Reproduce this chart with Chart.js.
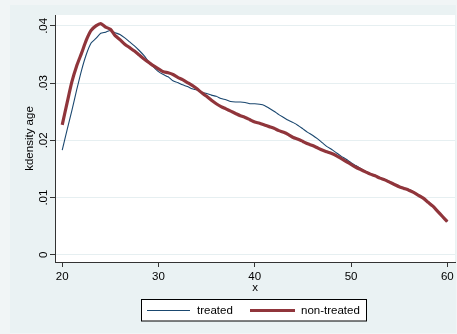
<!DOCTYPE html>
<html>
<head>
<meta charset="utf-8">
<script src="https://cdn.jsdelivr.net/npm/chart.js@4.4.0/dist/chart.umd.min.js"></script>
<style>
html,body{margin:0;padding:0;background:#eaf2f3;}
#wrap{width:457px;height:334px;position:relative;}
</style>
</head>
<body>
<div id="wrap"><canvas id="kd" width="457" height="334"></canvas></div>
<script>
// kdensity of age, treated vs non-treated (Stata s2color look)
const ages = [20,20.5,21,21.5,22,22.5,23,23.5,24,24.5,25,25.5,26,26.5,27,27.5,28,28.5,29,29.5,
  30,30.5,31,31.5,32,32.5,33,33.5,34,34.5,35,35.5,36,36.5,37,37.5,38,38.5,39,39.5,
  40,40.5,41,41.5,42,42.5,43,43.5,44,44.5,45,45.5,46,46.5,47,47.5,48,48.5,49,49.5,
  50,50.5,51,51.5,52,52.5,53,53.5,54,54.5,55,55.5,56,56.5,57,57.5,58,58.5,59,59.5,60];
const treated = [0.0183,0.0218,0.0252,0.0288,0.0322,0.0350,0.0370,0.0378,0.0387,0.0389,
  0.0392,0.0388,0.0385,0.0379,0.0372,0.0365,0.0357,0.0348,0.0337,0.0328,
  0.0320,0.0315,0.0311,0.0304,0.0301,0.0297,0.0294,0.0290,0.0288,0.0284,
  0.0282,0.0279,0.0277,0.0273,0.0271,0.0268,0.0267,0.0267,0.0266,0.0264,
  0.0264,0.0263,0.0261,0.0256,0.0251,0.0245,0.0240,0.0235,0.0231,0.0226,
  0.0220,0.0214,0.0209,0.0203,0.0196,0.0189,0.0184,0.0178,0.0172,0.0167,
  0.0161,0.0156,0.0151,0.0146,0.0142,0.0139,0.0135,0.0132,0.0128,0.0124,
  0.0120,0.0117,0.0114,0.0110,0.0105,0.0100,0.0093,0.0086,0.0077,0.0068,0.0058];
const nonTreated = [0.0227,0.0265,0.0302,0.0330,0.0352,0.0375,0.0392,0.0400,0.0404,0.0398,
  0.0394,0.0383,0.0376,0.0368,0.0362,0.0356,0.0349,0.0342,0.0336,0.0330,
  0.0325,0.0320,0.0318,0.0315,0.0310,0.0306,0.0301,0.0296,0.0290,0.0283,
  0.0277,0.0270,0.0264,0.0259,0.0255,0.0251,0.0247,0.0243,0.0240,0.0236,
  0.0232,0.0230,0.0227,0.0224,0.0221,0.0217,0.0214,0.0210,0.0205,0.0202,
  0.0198,0.0194,0.0191,0.0187,0.0183,0.0180,0.0177,0.0173,0.0168,0.0163,
  0.0158,0.0153,0.0149,0.0145,0.0141,0.0138,0.0134,0.0131,0.0127,0.0123,
  0.0119,0.0116,0.0113,0.0109,0.0104,0.0099,0.0092,0.0085,0.0076,0.0067,0.0058];
const xTicks = [20,30,40,50,60];
const yTicks = [0,0.01,0.02,0.03,0.04];
const yTickLabels = ['0','.01','.02','.03','.04'];
const seriesNames = ['treated','non-treated'];
const xTitle = 'x';
const yTitle = 'kdensity age';

const NAVY = '#1a476f', MAROON = '#90353b', BG = '#eaf2f3';
const FONT = '"Liberation Sans", Arial, sans-serif';

const stataBits = {
  id: 'stataBits',
  beforeDraw(chart){
    const {ctx, chartArea: a} = chart;
    ctx.save();
    ctx.fillStyle = '#f1f5f6';
    ctx.fillRect(0, 0, chart.width, chart.height);
    ctx.fillStyle = BG;
    ctx.fillRect(10, 5, chart.width - 11, chart.height - 6);
    ctx.fillStyle = '#fff';
    ctx.fillRect(a.left, a.top, a.right - a.left, a.bottom - a.top);
    ctx.restore();
  },
  afterDraw(chart){
    const {ctx, chartArea: a} = chart;
    const xs = chart.scales.x, ys = chart.scales.y;
    ctx.save();
    ctx.fillStyle = '#000';
    ctx.font = '11.5px ' + FONT;
    // x tick labels
    ctx.textAlign = 'center';
    ctx.textBaseline = 'middle';
    xTicks.forEach(v => ctx.fillText(String(v), xs.getPixelForValue(v), 276.5));
    ctx.fillText(xTitle, (a.left + a.right) / 2, 288);
    // y tick labels, rotated like Stata
    yTicks.forEach((v, i) => {
      ctx.save();
      ctx.translate(43.5, ys.getPixelForValue(v));
      ctx.rotate(-Math.PI / 2);
      ctx.fillText(yTickLabels[i], 0, 0);
      ctx.restore();
    });
    ctx.save();
    ctx.translate(30, (a.top + a.bottom) / 2);
    ctx.rotate(-Math.PI / 2);
    ctx.fillText(yTitle, 0, 0);
    ctx.restore();
    // legend box
    ctx.fillStyle = '#fff';
    ctx.fillRect(142, 299.5, 225, 21.5);
    ctx.strokeStyle = '#000';
    ctx.lineWidth = 1;
    ctx.strokeRect(141.5, 299.5, 225, 21.5);
    ctx.lineCap = 'butt';
    ctx.strokeStyle = NAVY; ctx.lineWidth = 1.2;
    ctx.beginPath(); ctx.moveTo(147, 310.5); ctx.lineTo(190, 310.5); ctx.stroke();
    ctx.strokeStyle = MAROON; ctx.lineWidth = 3.2;
    ctx.beginPath(); ctx.moveTo(250, 310.5); ctx.lineTo(295, 310.5); ctx.stroke();
    ctx.fillStyle = '#000';
    ctx.textAlign = 'left';
    ctx.fillText(seriesNames[0], 197, 311);
    ctx.fillText(seriesNames[1], 301, 311);
    ctx.restore();
  }
};

new Chart(document.getElementById('kd'), {
  type: 'line',
  data: {
    datasets: [
      { label: seriesNames[0], data: ages.map((x, i) => ({x, y: treated[i]})),
        borderColor: NAVY, borderWidth: 1.1, pointRadius: 0, tension: 0.2, order: 1 },
      { label: seriesNames[1], data: ages.map((x, i) => ({x, y: nonTreated[i]})),
        borderColor: MAROON, borderWidth: 3.2, pointRadius: 0, tension: 0.2, order: 0 }
    ]
  },
  options: {
    responsive: false,
    animation: false,
    devicePixelRatio: 1,
    layout: { padding: { top: 15, right: 2, left: 0, bottom: 0 } },
    plugins: { legend: { display: false }, tooltip: { enabled: false } },
    scales: {
      x: {
        type: 'linear', min: 19.25, max: 60.8,
        afterBuildTicks: s => { s.ticks = xTicks.map(v => ({value: v})); },
        afterFit: s => { s.height = 72; },
        ticks: { display: false },
        grid: { drawOnChartArea: false, drawTicks: true, tickLength: 5, tickColor: '#333' },
        border: { display: true, color: '#333', width: 1 }
      },
      y: {
        min: -0.00125, max: 0.0419,
        afterBuildTicks: s => { s.ticks = yTicks.map(v => ({value: v})); },
        afterFit: s => { s.width = 55; },
        ticks: { display: false },
        grid: { color: '#e6eff1', lineWidth: 1, drawTicks: true, tickLength: 5, tickColor: '#333' },
        border: { display: true, color: '#333', width: 1 }
      }
    }
  },
  plugins: [stataBits]
});
</script>
</body>
</html>
